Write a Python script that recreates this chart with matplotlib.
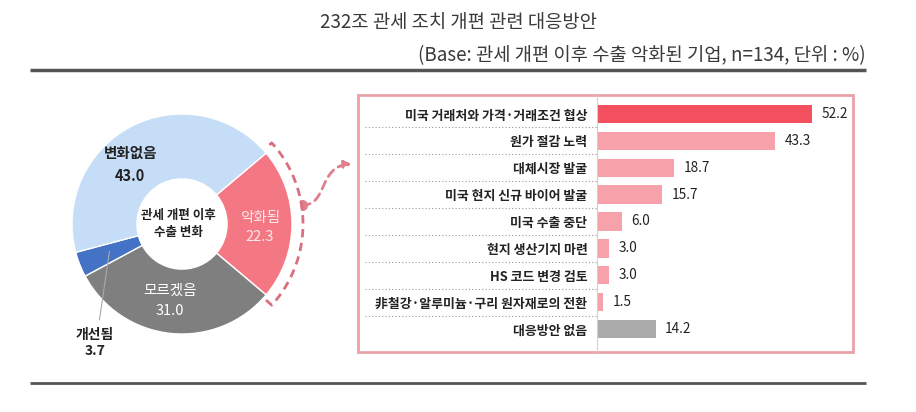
import numpy as np
import matplotlib
matplotlib.use('Agg')
import matplotlib.pyplot as plt
import matplotlib.transforms as mtransforms
from matplotlib.patches import Rectangle, Wedge, FancyArrowPatch
from matplotlib.path import Path

plt.rcParams['font.family'] = ['Noto Sans CJK KR', 'DejaVu Sans']

# 데이터
pie_labels = ['악화됨', '모르겠음', '개선됨', '변화없음']
pie_values = [22.3, 31.0, 3.7, 43.0]
pie_colors = ['#f47884', '#7f7f7f', '#4472c4', '#c5ddf6']

bar_labels = ['미국 거래처와 가격·거래조건 협상', '원가 절감 노력', '대체시장 발굴',
              '미국 현지 신규 바이어 발굴', '미국 수출 중단', '현지 생산기지 마련',
              'HS 코드 변경 검토', '非철강·알루미늄·구리 원자재로의 전환', '대응방안 없음']
bar_values = [52.2, 43.3, 18.7, 15.7, 6.0, 3.0, 3.0, 1.5, 14.2]
bar_colors = ['#f5505f'] + ['#f7a1aa'] * 7 + ['#ababab']

W, H = 916, 412
fig = plt.figure(figsize=(W / 100, H / 100), dpi=100)

# 배경 (픽셀 좌표)
bg = fig.add_axes([0, 0, 1, 1])
bg.set_xlim(0, W)
bg.set_ylim(H, 0)
bg.axis('off')

bg.text(458, 22, '232조 관세 조치 개편 관련 대응방안', ha='center', va='center',
        fontsize=13.5, fontweight='medium', color='#3a3a3a')
bg.text(866, 56, '(Base: 관세 개편 이후 수출 악화된 기업, n=134, 단위 : %)',
        ha='right', va='center', fontsize=13.5, color='#3a3a3a')
bg.plot([30, 866], [70, 70], color='#555555', lw=2.5, solid_capstyle='butt')
bg.plot([30, 866], [383, 383], color='#555555', lw=2, solid_capstyle='butt')
bg.add_patch(Rectangle((358, 95), 495, 257, fill=False, ec='#e9a2aa', lw=2))

# 도넛 차트
cx, cy, rpx = 182, 224, 110
half = 130
px = fig.add_axes([(cx - half) / W, (H - cy - half) / H, 2 * half / W, 2 * half / H])
wedges, _ = px.pie(pie_values, colors=pie_colors, startangle=pie_values[0] * 3.6 / 2,
                   counterclock=False, radius=1,
                   wedgeprops=dict(width=0.59, edgecolor='white', linewidth=1))
lim = half / rpx
px.set_xlim(-lim, lim)
px.set_ylim(-lim, lim)
px.set_aspect('equal')
px.axis('off')

# 악화됨 강조 점선
w0 = wedges[0]
t1, t2 = w0.theta1, w0.theta2
px.add_patch(Wedge((0, 0), 1.09, t1 - 2, t2 + 2, width=0.08, fc='white', ec='none', zorder=3))
ang = np.radians(np.linspace(t1 - 2, t2 + 2, 100))
arc_col = '#d9707f'
ra = 1.1
xs = np.concatenate([[1.03 * np.cos(ang[0])], ra * np.cos(ang), [1.03 * np.cos(ang[-1])]])
ys = np.concatenate([[1.03 * np.sin(ang[0])], ra * np.sin(ang), [1.03 * np.sin(ang[-1])]])
px.plot(xs, ys, color=arc_col, lw=2, ls=(0, (3, 2)), zorder=4, clip_on=False)

px.text(-0.47, 0.54, '변화없음\n43.0', ha='center', va='center', fontsize=10.5,
        fontweight='bold', color='#222222', linespacing=1.5)
px.text(0.71, -0.03, '악화됨\n22.3', ha='center', va='center', fontsize=10.5,
        fontweight='medium', color='#fde8ea', linespacing=1.5)
px.text(-0.11, -0.70, '모르겠음\n31.0', ha='center', va='center', fontsize=10.5,
        fontweight='medium', color='white', linespacing=1.5)
px.text(-0.03, 0.0, '관세 개편 이후\n수출 변화', ha='center', va='center', fontsize=9,
        fontweight='bold', color='#222222', linespacing=1.4)
px.text(-0.79, -1.08, '개선됨\n3.7', ha='center', va='center', fontsize=10,
        fontweight='bold', color='#222222', linespacing=1.2, clip_on=False)
px.plot([-0.66, -0.75], [-0.25, -0.87], color='#aaaaaa', lw=0.8)

# 화살표
arrow_path = Path([(302, 205), (328, 206), (318, 166), (352, 164)],
                  [Path.MOVETO, Path.CURVE4, Path.CURVE4, Path.CURVE4])
bg.add_patch(FancyArrowPatch(path=arrow_path, arrowstyle='-|>', mutation_scale=11,
                             color='#e07f8d', lw=2, ls=(0, (3, 2)), zorder=5))
bg.plot([302], [205], 'o', ms=7, color='#e07f8d', zorder=6)

# 막대 차트
scale = 4.12
bx = fig.add_axes([597 / W, (H - 352) / H, 248 / W, 257 / H])
ypos = np.arange(len(bar_values))
bx.barh(ypos, bar_values, height=0.68, color=bar_colors)
bx.set_xlim(0, 248 / scale)
bx.set_ylim(len(bar_values) - 1 + 0.855, -0.706)
bx.set_yticks(ypos)
bx.set_yticklabels(bar_labels, fontsize=9.3, fontweight='bold', color='#222222')
bx.tick_params(axis='y', length=0, pad=7)
bx.set_xticks([])
for s in ['top', 'right', 'bottom']:
    bx.spines[s].set_visible(False)
bx.spines['left'].set_color('#d0d0d0')
bx.patch.set_alpha(0)

for i, v in enumerate(bar_values):
    bx.annotate(f'{v:.1f}', (v, i), xytext=(7, 0), textcoords='offset points',
                va='center', ha='left', fontsize=9.8, fontweight='medium', color='#222222')

trans = mtransforms.blended_transform_factory(bg.transData, bx.transData)
for i in range(len(bar_values) - 1):
    bx.plot([365, 597], [i + 0.5, i + 0.5], transform=trans, ls=(0, (1, 2)),
            color='#999999', lw=0.8, clip_on=False)

fig.savefig('out.png', dpi=100)
